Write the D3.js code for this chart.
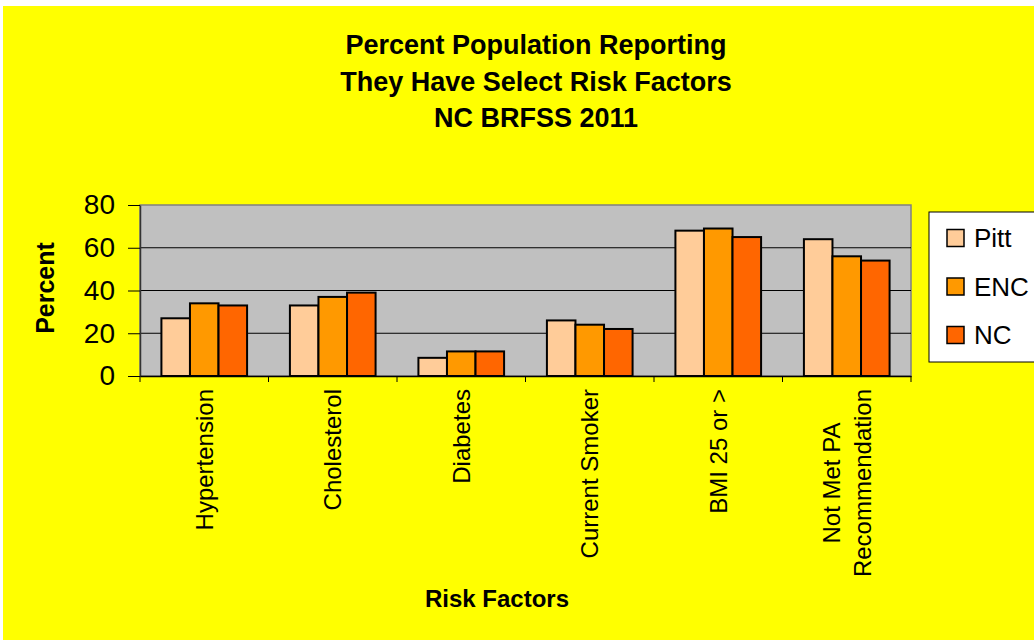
<!DOCTYPE html>
<html>
<head>
<meta charset="utf-8">
<script src="https://cdn.jsdelivr.net/npm/d3@7"></script>
<style>
  body { margin: 0; background: #fff; }
  svg { display: block; font-family: Arial, "Liberation Sans", sans-serif; }
</style>
</head>
<body>
<svg id="chart" width="1034" height="640"></svg>
<script>
// values
var categories = [["Hypertension"], ["Cholesterol"], ["Diabetes"], ["Current Smoker"], ["BMI 25 or >"], ["Not Met PA", "Recommendation"]];
var series = ["Pitt", "ENC", "NC"];
var pitt = [27, 33, 8.5, 26, 68, 64];
var enc = [34, 37, 11.5, 24, 69, 56];
var nc = [33, 39, 11.5, 22, 65, 54];
var yTicks = [0, 20, 40, 60, 80];
var titleLines = ["Percent Population Reporting", "They Have Select Risk Factors", "NC BRFSS 2011"];
var colors = ["#FFCC99", "#FF9900", "#FF6600"];

var values = [pitt, enc, nc];
var rows = categories.map(function (c, i) {
    return { id: i, lines: c, vals: series.map(function (s, j) { return { key: s, v: values[j][i] }; }) };
});

var svg = d3.select('#chart');

svg.append('rect')
    .attr('x', 3).attr('y', 6)
    .attr('width', 1040).attr('height', 640)
    .attr('fill', '#FFFF00');

var plot = { left: 140, right: 911, top: 205, bottom: 376 };

var x = d3.scaleBand()
    .domain(rows.map(function (d) { return d.id; }))
    .range([plot.left, plot.right]);

var xs = d3.scaleBand()
    .domain(series)
    .range([x.bandwidth() / 6, x.bandwidth() * 5 / 6]);

var y = d3.scaleLinear()
    .domain([0, 80])
    .range([plot.bottom, plot.top]);

var color = d3.scaleOrdinal().domain(series).range(colors);

// plot area
svg.append('rect')
    .attr('x', plot.left).attr('y', plot.top)
    .attr('width', plot.right - plot.left).attr('height', plot.bottom - plot.top)
    .attr('fill', '#C0C0C0')
    .attr('stroke', '#808080')
    .attr('stroke-width', 1.5);

// grid
svg.append('g')
    .selectAll('line')
    .data(yTicks.slice(1, -1))
    .join('line')
    .attr('x1', plot.left).attr('x2', plot.right)
    .attr('y1', function (d) { return y(d); })
    .attr('y2', function (d) { return y(d); })
    .attr('stroke', '#000')
    .attr('stroke-width', 1);

// y axis
var yAxis = svg.append('g')
    .attr('transform', 'translate(' + plot.left + ',0)')
    .call(d3.axisLeft(y).tickValues(yTicks).tickSize(12).tickSizeOuter(0).tickPadding(13));
yAxis.select('.domain').attr('stroke', '#333').attr('stroke-width', 1.5);
yAxis.selectAll('.tick line').attr('stroke', '#000');
yAxis.selectAll('.tick text')
    .attr('font-size', 28)
    .attr('font-family', 'Arial, "Liberation Sans", sans-serif')
    .attr('fill', '#000');

// x axis
var xAxis = svg.append('g')
    .attr('transform', 'translate(0,' + plot.bottom + ')')
    .call(d3.axisBottom(x).tickSize(0).tickFormat(''));
xAxis.select('.domain').attr('stroke', '#000').attr('stroke-width', 1.5);
xAxis.selectAll('.tick').remove();

svg.append('g')
    .selectAll('line')
    .data(d3.range(rows.length + 1))
    .join('line')
    .attr('x1', function (i) { return plot.left + i * x.step(); })
    .attr('x2', function (i) { return plot.left + i * x.step(); })
    .attr('y1', plot.bottom)
    .attr('y2', plot.bottom + 6)
    .attr('stroke', '#000');

// bars
var groups = svg.append('g')
    .selectAll('g.cat')
    .data(rows)
    .join('g')
    .classed('cat', true)
    .attr('transform', function (d) { return 'translate(' + x(d.id) + ',0)'; });

groups.selectAll('rect')
    .data(function (d) { return d.vals; })
    .join('rect')
    .attr('x', function (d) { return xs(d.key); })
    .attr('width', xs.bandwidth())
    .attr('y', function (d) { return y(d.v); })
    .attr('height', function (d) { return y(0) - y(d.v); })
    .attr('fill', function (d) { return color(d.key); })
    .attr('stroke', '#000')
    .attr('stroke-width', 2);

// category labels, rotated, block top at labelTop
var labelTop = 389, lineH = 31.5;
var labels = svg.append('g')
    .selectAll('g.lab')
    .data(rows)
    .join('g')
    .classed('lab', true)
    .attr('transform', function (d) {
        return 'translate(' + (x(d.id) + x.bandwidth() / 2) + ',' + labelTop + ') rotate(-90)';
    });

labels.each(function (d) {
    var g = d3.select(this);
    var n = d.lines.length;
    var t = g.selectAll('text')
        .data(d.lines)
        .join('text')
        .attr('font-size', 24)
        .attr('dy', '0.36em')
        .attr('y', function (l, i) { return (i - (n - 1) / 2) * lineH; })
        .text(function (l) { return l; });
    var maxLen = d3.max(t.nodes(), function (nd) { return nd.getComputedTextLength(); });
    t.attr('text-anchor', 'middle').attr('x', -maxLen / 2);
});

// titles
svg.append('g')
    .selectAll('text')
    .data(titleLines)
    .join('text')
    .attr('x', 536)
    .attr('y', function (d, i) { return 54 + i * 36.5; })
    .attr('text-anchor', 'middle')
    .attr('font-size', 27)
    .attr('font-weight', 'bold')
    .text(function (d) { return d; });

svg.append('text')
    .attr('transform', 'translate(45,288) rotate(-90)')
    .attr('dy', '0.36em')
    .attr('text-anchor', 'middle')
    .attr('font-size', 25)
    .attr('font-weight', 'bold')
    .text('Percent');

svg.append('text')
    .attr('x', 497)
    .attr('y', 607)
    .attr('text-anchor', 'middle')
    .attr('font-size', 24)
    .attr('font-weight', 'bold')
    .text('Risk Factors');

// legend
var legend = svg.append('g').attr('transform', 'translate(929,212)');
legend.append('rect')
    .attr('width', 120).attr('height', 150)
    .attr('fill', '#fff')
    .attr('stroke', '#000')
    .attr('stroke-width', 1);

var items = legend.selectAll('g.item')
    .data(series)
    .join('g')
    .classed('item', true)
    .attr('transform', function (d, i) { return 'translate(0,' + (26 + i * 48.5) + ')'; });

items.append('rect')
    .attr('x', 18).attr('y', -8.5)
    .attr('width', 17).attr('height', 17)
    .attr('fill', function (d) { return color(d); })
    .attr('stroke', '#000')
    .attr('stroke-width', 1.5);

items.append('text')
    .attr('x', 45)
    .attr('dy', '0.36em')
    .attr('font-size', 26)
    .text(function (d) { return d; });
</script>
</body>
</html>
